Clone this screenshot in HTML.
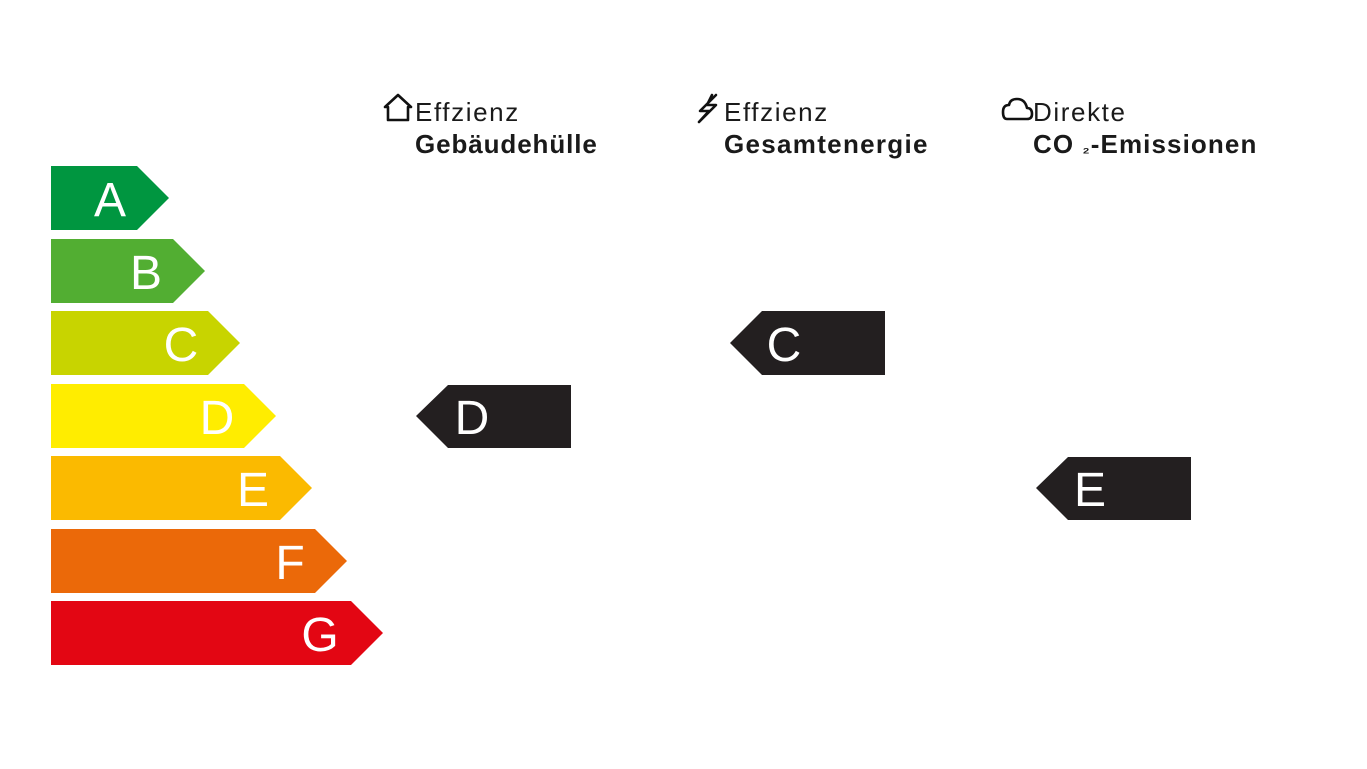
<!DOCTYPE html>
<html><head><meta charset="utf-8"><style>
html,body{margin:0;padding:0;background:#fff;width:1367px;height:769px;overflow:hidden}
svg{display:block}
</style></head><body>
<svg width="1367" height="769" viewBox="0 0 1367 769" xmlns="http://www.w3.org/2000/svg">
<g style="font-family:'Liberation Sans',sans-serif" font-size="48" fill="#fff" text-anchor="middle">
<polygon points="51,166 137,166 169,198 137,230 51,230" fill="#009640"/>
<text x="110" y="216" fill="#fff">A</text>
<polygon points="51,239 173,239 205,271 173,303 51,303" fill="#52ae32"/>
<text x="146" y="289" fill="#fff">B</text>
<polygon points="51,311 208,311 240,343 208,375 51,375" fill="#c8d400"/>
<text x="181" y="361" fill="#fff">C</text>
<polygon points="51,384 244,384 276,416 244,448 51,448" fill="#ffed00"/>
<text x="217" y="434" fill="#fff">D</text>
<polygon points="51,456 280,456 312,488 280,520 51,520" fill="#fbba00"/>
<text x="253" y="506" fill="#fff">E</text>
<polygon points="51,529 315,529 347,561 315,593 51,593" fill="#eb6909"/>
<text x="290" y="579" fill="#fff">F</text>
<polygon points="51,601 351,601 383,633 351,665 51,665" fill="#e30613"/>
<text x="320" y="651" fill="#fff">G</text>

<polygon points="416,416 448,385 571,385 571,448 448,448" fill="#231f20"/>
<text x="472" y="434" fill="#fff">D</text>
<polygon points="730,343 762,311 885,311 885,375 762,375" fill="#231f20"/>
<text x="784" y="361" fill="#fff">C</text>
<polygon points="1036,488 1068,457 1191,457 1191,520 1068,520" fill="#231f20"/>
<text x="1090" y="506" fill="#fff">E</text>
</g>

<g fill="none" stroke="#111" stroke-width="2.6" stroke-linejoin="round" stroke-linecap="round">
<path d="M385,107 L398,95 L411,107 L408,107 L408,120 L388,120 L388,107 Z"/>
<path d="M716,95 L700,111 L709,111 L699,122 L716,105 L707,105 L712,95"/>
<path d="M1007,119 L1027,119 Q1032,119 1032,114 Q1032,108 1027,108 Q1025,99 1017,99 Q1010,99 1009,105 Q1003,105 1003,112 Q1003,119 1007,119 Z"/>
</g>
<g font-size="26" fill="#1a1a1a" style="font-family:'Liberation Sans',sans-serif">
<text x="415" y="121" letter-spacing="1.6">Effzienz</text>
<text x="415" y="153" font-weight="bold" letter-spacing="0.9">Gebäudehülle</text>
<text x="724" y="121" letter-spacing="1.6">Effzienz</text>
<text x="724" y="153" font-weight="bold" letter-spacing="1.3">Gesamtenergie</text>
<text x="1033" y="121" letter-spacing="1.6">Direkte</text>
<text x="1033" y="153" font-weight="bold" letter-spacing="1.1">CO <tspan font-size="16">₂</tspan>-Emissionen</text>
</g>
</svg>
</body></html>
